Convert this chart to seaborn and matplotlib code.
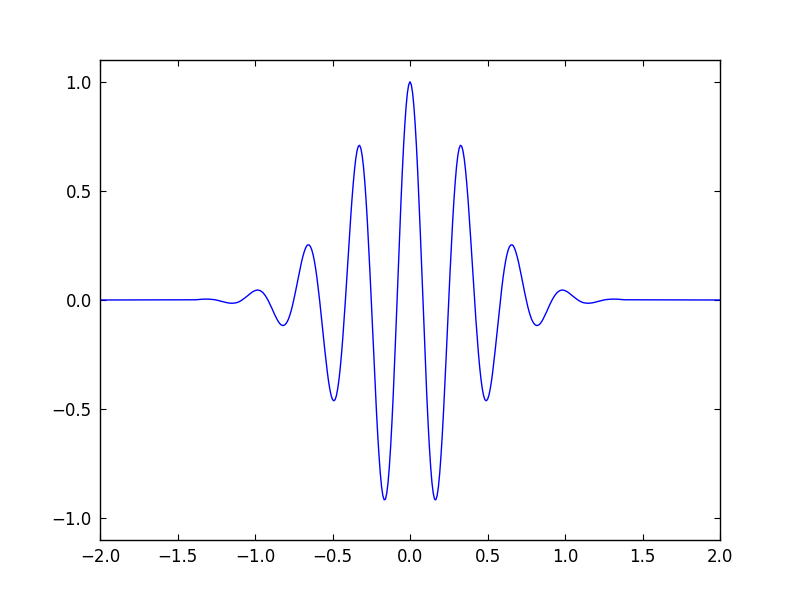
import numpy as np
import matplotlib
matplotlib.use("Agg")
import matplotlib.pyplot as plt
import seaborn as sns

# flat ends of the curve
x_ends = [-2.0, 2.0]

# curve values for x >= 0 (curve is symmetric about x = 0)
# at x = k/60, k = 0..84
y_half = [
    1.000, 0.950, 0.806, 0.583, 0.305, 0.000, -0.299, -0.563, -0.765, -0.886,
    -0.916, -0.856, -0.713, -0.507, -0.260, 0.000, 0.247, 0.457, 0.610, 0.694,
    0.705, 0.647, 0.530, 0.370, 0.187, 0.000, -0.171, -0.311, -0.408, -0.457,
    -0.456, -0.411, -0.331, -0.227, -0.113, 0.000, 0.100, 0.178, 0.229, 0.252,
    0.248, 0.219, 0.174, 0.117, 0.057, 0.000, -0.049, -0.086, -0.108, -0.117,
    -0.113, -0.098, -0.076, -0.051, -0.024, 0.000, 0.020, 0.035, 0.043, 0.046,
    0.043, 0.037, 0.028, 0.018, 0.009, 0.000, -0.007, -0.012, -0.014, -0.015,
    -0.014, -0.012, -0.009, -0.006, -0.003, 0.000, 0.002, 0.003, 0.004, 0.004,
    0.004, 0.003, 0.002, 0.001, 0.001,
]

# extra readings in between, at x = (k + 0.5)/60, k = 0..54
y_mid = [
    0.987, 0.889, 0.703, 0.449, 0.154, -0.152, -0.438, -0.673, -0.837, -0.913,
    -0.897, -0.794, -0.617, -0.387, -0.130, 0.127, 0.358, 0.541, 0.661, 0.709,
    0.684, 0.595, 0.455, 0.280, 0.093, -0.089, -0.246, -0.365, -0.439, -0.462,
    -0.439, -0.375, -0.281, -0.171, -0.055, 0.052, 0.142, 0.207, 0.244, 0.253,
    0.236, 0.198, 0.146, 0.087, 0.028, -0.026, -0.069, -0.099, -0.114, -0.116,
    -0.107, -0.088, -0.064, -0.037, -0.012,
]

x_ticks = [-2.0, -1.5, -1.0, -0.5, 0.0, 0.5, 1.0, 1.5, 2.0]
y_ticks = [-1.0, -0.5, 0.0, 0.5, 1.0]

# put the readings in order along x, then mirror to the negative side
pos_x = np.concatenate([np.arange(len(y_half)) / 60.0,
                        (np.arange(len(y_mid)) + 0.5) / 60.0])
pos_y = np.concatenate([y_half, y_mid])
order = np.argsort(pos_x)
pos_x, pos_y = pos_x[order], pos_y[order]

x = np.concatenate([[x_ends[0]], -pos_x[::-1], pos_x[1:], [x_ends[1]]])
y = np.concatenate([[0.0], pos_y[::-1], pos_y[1:], [0.0]])

sns.set_style("white")
plt.rcParams['font.family'] = ['DejaVu Sans']
plt.rcParams['font.size'] = 12

fig = plt.figure(figsize=(8, 6), dpi=100)
ax = fig.add_axes([0.125, 0.1, 0.775, 0.8])

sns.lineplot(x=x, y=y, ax=ax, color='blue', linewidth=1.0, sort=False)

ax.set_xlim(-2.0, 2.0)
ax.set_ylim(-1.1, 1.1)
ax.set_xticks(x_ticks)
ax.set_yticks(y_ticks)
ax.set_xticklabels([f"{t:.1f}".replace('-', '\u2212') for t in x_ticks])
ax.set_yticklabels([f"{t:.1f}".replace('-', '\u2212') for t in y_ticks])

ax.tick_params(direction='in', length=4, width=0.8, color='black',
               top=True, right=True, bottom=True, left=True,
               labelsize=12, labelcolor='black', pad=6)
for side in ax.spines.values():
    side.set_color('black')
    side.set_linewidth(1.0)

fig.savefig('out.png', dpi=100, facecolor='white')
